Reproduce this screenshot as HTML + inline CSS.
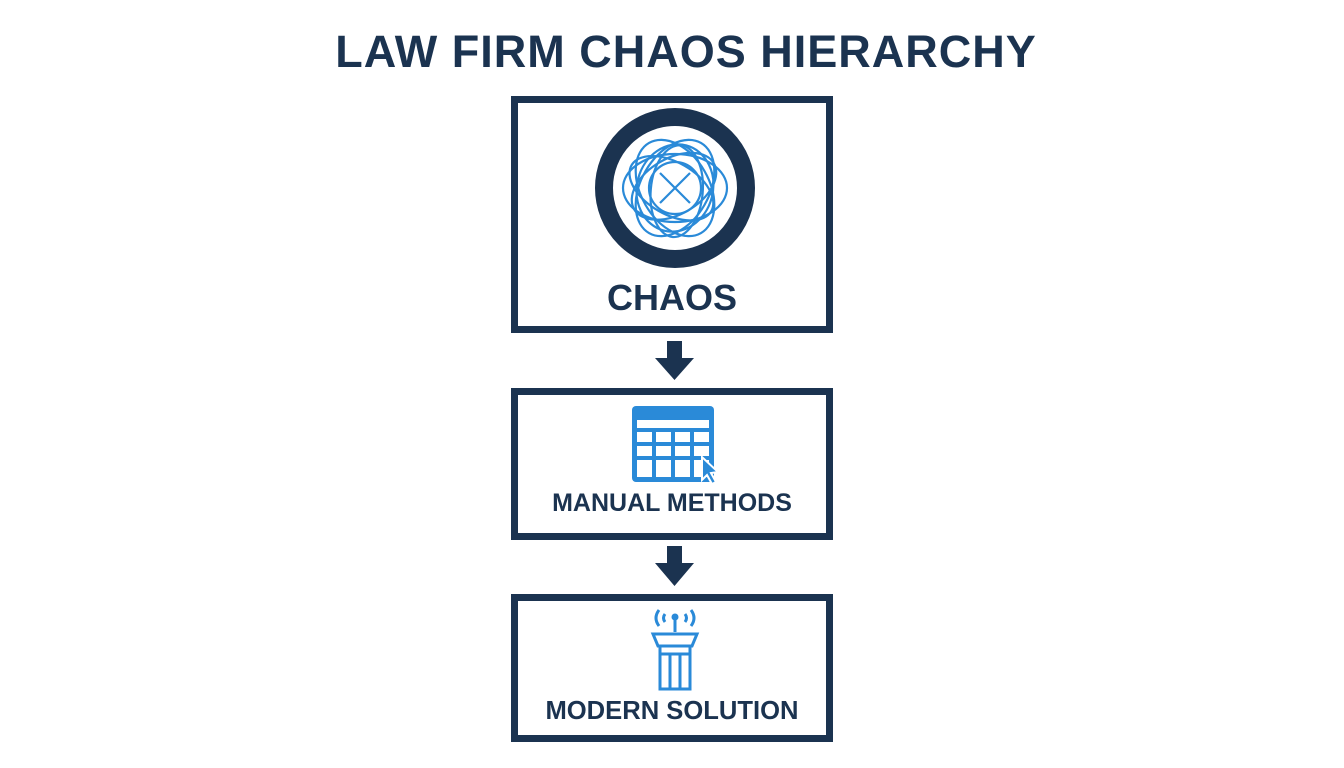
<!DOCTYPE html>
<html><head><style>
body{margin:0;width:1344px;height:768px;background:#fff;overflow:hidden;font-family:"Liberation Sans",sans-serif}
.t{position:absolute;text-align:center;font-weight:bold;color:#1b3350}
.l{left:472px;width:400px}
.box{position:absolute;left:511px;width:308px;border:7px solid #1b3350;background:#fff}
</style></head><body>
<div class="t" style="left:0;width:1372px;top:26px;font-size:45px;letter-spacing:1px">LAW FIRM CHAOS HIERARCHY</div>
<div class="box" style="top:96px;height:223px"></div>
<div class="box" style="top:388px;height:138px"></div>
<div class="box" style="top:594px;height:134px"></div>
<svg width="1344" height="768" style="position:absolute;left:0;top:0">
<g fill="#1b3350">
<rect x="667" y="341" width="15" height="18"/><polygon points="655,358 694,358 674.5,380"/>
<rect x="667" y="546" width="15" height="18"/><polygon points="655,563 694,563 674.5,586"/>
</g>
<circle cx="675" cy="188" r="71" fill="#fff" stroke="#1b3350" stroke-width="18"/>
<g fill="none" stroke="#2a8ad8" stroke-width="2.2">
<ellipse cx="675" cy="188" rx="52" ry="34"/>
<ellipse cx="675" cy="188" rx="52" ry="34" transform="rotate(60 675 188)"/>
<ellipse cx="675" cy="188" rx="52" ry="34" transform="rotate(120 675 188)"/>
<ellipse cx="672" cy="190" rx="46" ry="26" transform="rotate(30 675 188)"/>
<ellipse cx="678" cy="186" rx="46" ry="26" transform="rotate(95 675 188)"/>
<ellipse cx="675" cy="190" rx="46" ry="28" transform="rotate(150 675 188)"/>
<ellipse cx="675" cy="188" rx="38" ry="44" transform="rotate(15 675 188)"/>
<circle cx="675" cy="188" r="26"/>
<path d="M660 173 L690 203 M690 173 L660 203"/>
</g>
<g>
<rect x="632" y="406" width="82" height="76" rx="4" fill="#2a8ad8"/>
<g fill="#fff">
<rect x="637" y="420" width="72" height="8"/>
<rect x="637" y="432" width="15" height="10"/><rect x="656" y="432" width="15" height="10"/><rect x="675" y="432" width="15" height="10"/><rect x="694" y="432" width="15" height="10"/>
<rect x="637" y="446" width="15" height="10"/><rect x="656" y="446" width="15" height="10"/><rect x="675" y="446" width="15" height="10"/><rect x="694" y="446" width="15" height="10"/>
<rect x="637" y="460" width="15" height="17"/><rect x="656" y="460" width="15" height="17"/><rect x="675" y="460" width="15" height="17"/><rect x="694" y="460" width="15" height="17"/>
</g>
<polygon points="702,457 702,480 707,475 712,484 716,482 711,473 718,472" fill="#2a8ad8" stroke="#fff" stroke-width="2"/>
</g>
<g fill="none" stroke="#2a8ad8" stroke-width="3">
<path d="M659 610 q-6 8 0 16 M665 614 q-3 4 0 8 M691 610 q6 8 0 16 M685 614 q3 4 0 8"/>
<line x1="675" y1="618" x2="675" y2="632"/>
<path d="M653 634 h44 l-5 12 h-34 z"/>
<path d="M660 646 v8 h30 v-8"/>
<path d="M660 654 v35 h30 v-35 M670 654 v35 M680 654 v35"/>
</g>
<circle cx="675" cy="617" r="3.5" fill="#2a8ad8"/>
</svg>
<div class="t l" style="top:277px;font-size:36px">CHAOS</div>
<div class="t l" style="top:489px;font-size:25px">MANUAL METHODS</div>
<div class="t l" style="top:697px;font-size:25.6px">MODERN SOLUTION</div>
</body></html>
